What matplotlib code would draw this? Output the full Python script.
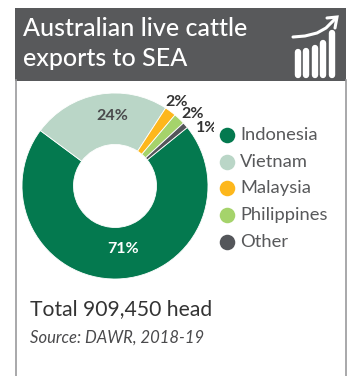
#!/usr/bin/env python3
import matplotlib

matplotlib.use("Agg")
import matplotlib.pyplot as plt
from matplotlib.patches import Rectangle

W, H = 353, 376

countries = ["Indonesia", "Vietnam", "Malaysia", "Philippines", "Other"]
shares = [71, 24, 2, 2, 1]
colors = ["#04794f", "#bad6c7", "#fdb71c", "#a5d36b", "#54565a"]
label_pos = [(123, 249), (112, 116), (177, 102), (193, 114), (207, 128)]
label_colors = ["white", "#4a4a4c", "#333333", "#333333", "#333333"]

icon_bars = [(297.5, 52), (306, 51), (314.5, 48), (323, 43), (331.5, 33)]

plt.rcParams["font.family"] = ["Lato", "DejaVu Sans"]

fig = plt.figure(figsize=(W / 100, H / 100), dpi=100)
ax = fig.add_axes([0, 0, 1, 1])
ax.set_xlim(0, W)
ax.set_ylim(0, H)
ax.axis("off")


def py(y):
    # y measured from the top of the figure
    return H - y


# card outline and header
ax.plot([15.5, 15.5], [py(80), py(376)], color="#9a9a9c", lw=1.2)
ax.plot([345.5, 345.5], [py(80), py(376)], color="#9a9a9c", lw=1.2)
ax.add_patch(Rectangle((15, py(81)), 331, 73, color="#58595b", lw=0))
ax.text(23, py(29), "Australian live cattle", color="white", fontsize=18,
        fontweight="medium", va="center")
ax.text(23, py(59), "exports to SEA", color="white", fontsize=18,
        fontweight="medium", va="center")

# bar icon
for x, top in icon_bars:
    ax.plot([x, x], [py(top), py(75)], color="white", lw=4.6, solid_capstyle="round")
ax.plot([293, 305, 317, 326, 335], [py(37), py(36), py(33), py(28), py(19)], color="white",
        lw=2.2, solid_capstyle="round")
ax.plot([327, 337, 335], [py(18), py(17), py(28)], color="white", lw=2.2,
        solid_capstyle="round", solid_joinstyle="miter")

# donut
ax.pie(shares, colors=colors, startangle=39, counterclock=False, center=(115, py(186)),
       radius=93, frame=False, wedgeprops=dict(width=51.5, edgecolor="white", linewidth=0.6))
ax.set_xlim(0, W)
ax.set_ylim(0, H)
ax.set_aspect("equal")

# the last label is cut off where the legend column starts
clip = Rectangle((0, 0), 213.5, H, transform=ax.transData)
for share, pos, c in zip(shares, label_pos, label_colors):
    t = ax.text(pos[0], py(pos[1]), f"{share}%", color=c, fontsize=11.5, fontweight="bold",
                ha="center", va="center")
    t.set_clip_on(True)
    t.set_clip_path(clip)

# legend
for i, (name, c) in enumerate(zip(countries, colors)):
    y = py(135 + i * 26.7)
    ax.scatter([227], [y], s=125, color=c, linewidths=0)
    ax.text(240, y, name, color="#58595b", fontsize=13.2, va="center")

ax.text(30, py(309), "Total 909,450 head", color="#333333", fontsize=15.2, va="center")
ax.text(30, py(338), "Source: DAWR, 2018-19", color="#4a4a4c", fontsize=12,
        style="italic", va="center")

fig.savefig("out.png", dpi=100)
